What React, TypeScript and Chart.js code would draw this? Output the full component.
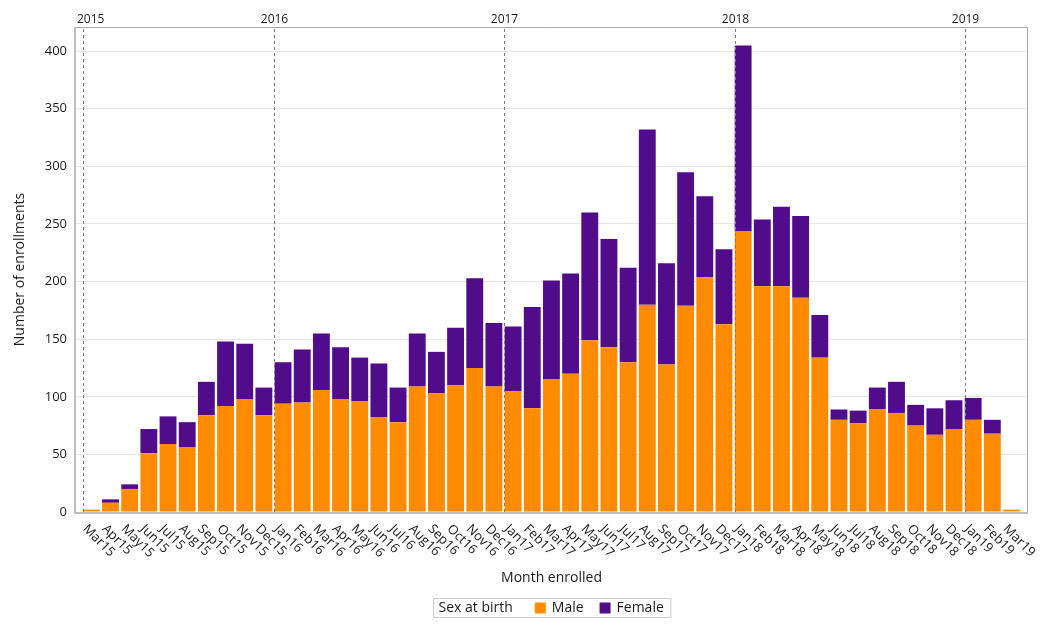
import React, { useEffect, useRef } from "react";
import { Chart, registerables } from "chart.js";

Chart.register(...registerables);

const months = [
  "Mar15", "Apr15", "May15", "Jun15", "Jul15", "Aug15", "Sep15", "Oct15", "Nov15", "Dec15",
  "Jan16", "Feb16", "Mar16", "Apr16", "May16", "Jun16", "Jul16", "Aug16", "Sep16", "Oct16", "Nov16", "Dec16",
  "Jan17", "Feb17", "Mar17", "Apr17", "May17", "Jun17", "Jul17", "Aug17", "Sep17", "Oct17", "Nov17", "Dec17",
  "Jan18", "Feb18", "Mar18", "Apr18", "May18", "Jun18", "Jul18", "Aug18", "Sep18", "Oct18", "Nov18", "Dec18",
  "Jan19", "Feb19", "Mar19",
];

const maleCounts = [
  2, 8, 20, 51, 59, 56, 84, 92, 98, 84,
  94, 95, 106, 98, 96, 82, 78, 109, 103, 110, 125, 109,
  105, 90, 115, 120, 149, 143, 130, 180, 128, 179, 204, 163,
  244, 196, 196, 186, 134, 80, 77, 89, 86, 75, 67, 72,
  80, 68, 2,
];

const femaleCounts = [
  0, 3, 4, 21, 24, 22, 29, 56, 48, 24,
  36, 46, 49, 45, 38, 47, 30, 46, 36, 50, 78, 55,
  56, 88, 86, 87, 111, 94, 82, 152, 88, 116, 70, 65,
  161, 58, 69, 71, 37, 9, 11, 19, 27, 18, 23, 25,
  19, 12, 0,
];

const yTickValues = [0, 50, 100, 150, 200, 250, 300, 350, 400];
const yearLabels = ["2015", "2016", "2017", "2018", "2019"];
const seriesNames = ["Male", "Female"];
const seriesColors = ["#ff8c00", "#510c8c"];
const legendTitle = "Sex at birth";
const xTitle = "Month enrolled";
const yTitle = "Number of enrollments";

const FONT = '"Open Sans", "Noto Sans", "DejaVu Sans", sans-serif';
const TEXT = "#1a1a1a";

// index of the first bar of each year
const yearStartIndex = yearLabels.map((yr) => {
  const suffix = yr.slice(2);
  const idx = months.findIndex((m) => m.endsWith(suffix));
  return idx;
});

const decorPlugin = {
  id: "decor",
  afterDatasetsDraw(chart: any) {
    const { ctx, chartArea: a, scales } = chart;
    const x = scales.x;
    ctx.save();

    // frame
    ctx.strokeStyle = "#a9a9a9";
    ctx.lineWidth = 1;
    ctx.beginPath();
    ctx.moveTo(a.left, a.top + 0.5);
    ctx.lineTo(a.right - 0.5, a.top + 0.5);
    ctx.lineTo(a.right - 0.5, a.bottom);
    ctx.stroke();
    ctx.strokeStyle = "#bdbdbd";
    ctx.lineWidth = 2;
    ctx.beginPath();
    ctx.moveTo(a.left, a.top);
    ctx.lineTo(a.left, a.bottom + 1);
    ctx.lineTo(a.right, a.bottom + 1);
    ctx.stroke();

    // year dashed lines + labels
    ctx.font = `12px ${FONT}`;
    ctx.fillStyle = TEXT;
    ctx.textBaseline = "alphabetic";
    ctx.textAlign = "center";
    yearLabels.forEach((yr, k) => {
      const px = Math.round(x.getPixelForValue(yearStartIndex[k] - 0.45)) + 0.5;
      ctx.setLineDash([3, 3]);
      ctx.strokeStyle = "#7a7a7a";
      ctx.lineWidth = 1;
      ctx.beginPath();
      ctx.moveTo(px, a.top + 2);
      ctx.lineTo(px, a.bottom);
      ctx.stroke();
      ctx.setLineDash([]);
      const w = ctx.measureText(yr).width;
      const cx = Math.max(px, a.left + w / 2 + 2);
      ctx.fillText(yr, cx, a.top - 4);
    });

    // x tick labels rotated 45deg clockwise
    ctx.font = `13px ${FONT}`;
    ctx.textAlign = "left";
    ctx.textBaseline = "alphabetic";
    months.forEach((m, i) => {
      const px = x.getPixelForValue(i);
      ctx.save();
      ctx.translate(px - 9, a.bottom + 17.5);
      ctx.rotate(Math.PI / 4);
      ctx.fillText(m, 0, 0);
      ctx.restore();
    });

    // axis titles
    ctx.font = `14px ${FONT}`;
    ctx.textAlign = "center";
    ctx.textBaseline = "middle";
    ctx.fillText(xTitle, (a.left + a.right) / 2, 578);
    ctx.save();
    ctx.translate(20, (a.top + a.bottom) / 2);
    ctx.rotate(-Math.PI / 2);
    ctx.fillText(yTitle, 0, 0);
    ctx.restore();

    // legend
    ctx.font = `14px ${FONT}`;
    ctx.textAlign = "left";
    const sq = 11;
    const padL = 5;
    const padR = 7;
    const titleW = ctx.measureText(legendTitle).width;
    const itemW = seriesNames.map((n) => ctx.measureText(n).width);
    const gapTitle = 22;
    const gapSq = 6;
    const gapItem = 16;
    const totalW =
      padL + titleW + gapTitle + sq + gapSq + itemW[0] + gapItem + sq + gapSq + itemW[1] + padR;
    const cxL = (a.left + a.right) / 2;
    const boxL = Math.round(cxL - totalW / 2) + 0.5;
    const boxT = 598.5;
    const boxH = 19;
    ctx.strokeStyle = "#cccccc";
    ctx.lineWidth = 1;
    ctx.strokeRect(boxL, boxT, totalW, boxH);
    const midY = boxT + boxH / 2;
    let cur = boxL + padL;
    ctx.fillStyle = TEXT;
    ctx.fillText(legendTitle, cur, midY);
    cur += titleW + gapTitle;
    seriesNames.forEach((n, k) => {
      ctx.fillStyle = seriesColors[k];
      ctx.fillRect(cur, midY - sq / 2, sq, sq);
      cur += sq + gapSq;
      ctx.fillStyle = TEXT;
      ctx.fillText(n, cur, midY);
      cur += itemW[k] + gapItem;
    });

    ctx.restore();
  },
};

export default function App() {
  const canvasRef = useRef<HTMLCanvasElement | null>(null);

  useEffect(() => {
    const canvas = canvasRef.current;
    if (!canvas) return;
    const chart = new Chart(canvas, {
      type: "bar",
      data: {
        datasets: [
          {
            label: seriesNames[0],
            data: maleCounts.map((v, i) => ({ x: i, y: v })),
            backgroundColor: seriesColors[0],
            borderWidth: 0,
            barPercentage: 0.88,
            categoryPercentage: 1,
          },
          {
            label: seriesNames[1],
            data: femaleCounts.map((v, i) => ({ x: i, y: v })),
            backgroundColor: seriesColors[1],
            borderWidth: 0,
            barPercentage: 0.88,
            categoryPercentage: 1,
          },
        ],
      },
      options: {
        responsive: false,
        animation: false,
        maintainAspectRatio: false,
        layout: { padding: { left: 0, top: 27, right: 22, bottom: 0 } },
        plugins: {
          legend: { display: false },
          tooltip: { enabled: false },
          title: { display: false },
        },
        scales: {
          x: {
            type: "linear",
            stacked: true,
            min: -0.853,
            max: 48.86,
            offset: false,
            ticks: { display: false },
            grid: { display: false },
            border: { display: false },
            afterFit: (s: any) => {
              s.height = 117;
            },
          },
          y: {
            type: "linear",
            stacked: true,
            min: 0,
            max: 421,
            afterBuildTicks: (s: any) => {
              s.ticks = yTickValues.map((v) => ({ value: v }));
            },
            afterFit: (s: any) => {
              s.width = 75;
            },
            ticks: {
              color: TEXT,
              font: { family: FONT, size: 13 },
              padding: 8,
            },
            grid: { color: "#e6e6e6", lineWidth: 1, drawTicks: false },
            border: { display: false },
          },
        },
      },
      plugins: [decorPlugin],
    });
    return () => chart.destroy();
  }, []);

  return (
    <div style={{ position: "absolute", left: 0, top: 0, width: 1050, height: 629, background: "#fff" }}>
      <canvas ref={canvasRef} width={1050} height={629} style={{ display: "block" }} />
    </div>
  );
}
